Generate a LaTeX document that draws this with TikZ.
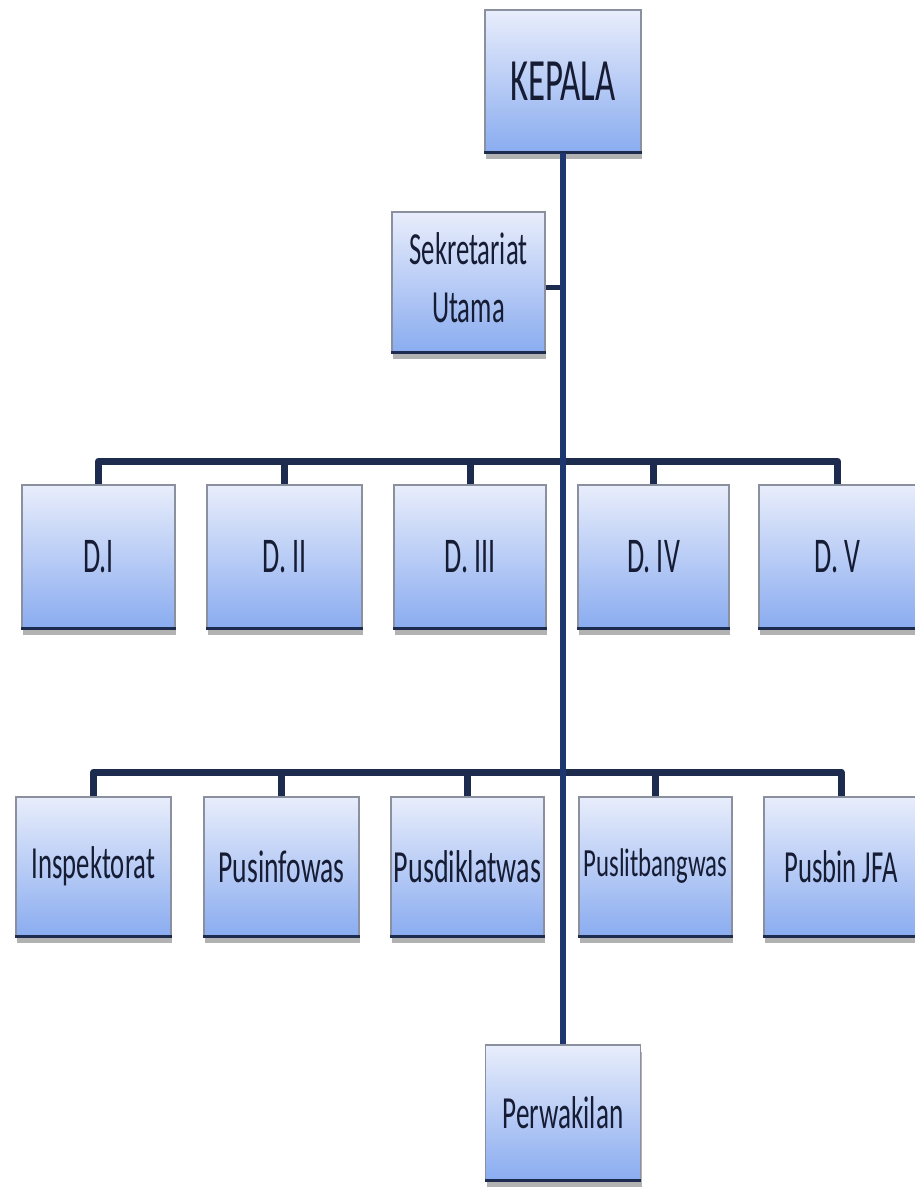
\documentclass[tikz,border=0pt]{standalone}
\usepackage{fontspec}
\usepackage{graphicx}
\setmainfont{Carlito}
\usetikzlibrary{shadows,calc}
\definecolor{navy}{HTML}{1D2B4F}
\definecolor{trunkc}{HTML}{1E3670}
\definecolor{boxtop}{HTML}{E8EDFB}
\definecolor{boxbot}{HTML}{8AACF0}
\definecolor{txt}{HTML}{161C33}
\definecolor{edge}{HTML}{8A909E}
\newcommand{\lbl}[3]{\scalebox{#2}[1]{\fontsize{#1}{#1}\selectfont #3}}
\tikzset{
  orgbox/.style={rectangle, inner sep=0pt, top color=boxtop, bottom color=boxbot,
    draw=edge, line width=1.2pt, text=txt,
    drop shadow={shadow xshift=1pt, shadow yshift=-7pt, opacity=.3, fill=black}},
  bus/.style={navy, line width=7pt, line join=round},
  trunk/.style={trunkc, line width=6.5pt},
  bottomedge/.style={navy, line width=3pt}
}
\begin{document}
\begin{tikzpicture}[x=1pt,y=-1pt]
\useasboundingbox[fill=white] (0,0) rectangle (915,1189);

% top
\node[orgbox, minimum width=156pt, minimum height=142pt] (kepala) at (563,81) {\lbl{60}{.58}{KEPALA}};
\node[orgbox, minimum width=153pt, minimum height=140pt] (sek) at (468.5,282)
  {\scalebox{.58}[1]{\fontsize{46}{58}\selectfont\begin{tabular}{@{}c@{}}Sekretariat\\Utama\end{tabular}}};

% D row
\node[orgbox, minimum width=153pt, minimum height=143pt] (d1) at (98.5,556.5) {\lbl{50}{.56}{D.I}};
\node[orgbox, minimum width=155pt, minimum height=143pt] (d2) at (284.5,556.5) {\lbl{50}{.56}{D. II}};
\node[orgbox, minimum width=152pt, minimum height=143pt] (d3) at (470,556.5) {\lbl{50}{.56}{D. III}};
\node[orgbox, minimum width=151pt, minimum height=143pt] (d4) at (653.5,556.5) {\lbl{50}{.56}{D. IV}};
\node[orgbox, minimum width=157pt, minimum height=143pt] (d5) at (837.5,556.5) {\lbl{50}{.56}{D. V}};

% lower row
\node[orgbox, minimum width=155pt, minimum height=139pt] (p1) at (93.5,866.5) {\lbl{46}{.58}{Inspektorat}};
\node[orgbox, minimum width=155pt, minimum height=139pt] (p2) at (281.5,866.5) {\lbl{46}{.6}{Pusinfowas}};
\node[orgbox, minimum width=153pt, minimum height=139pt] (p3) at (467.5,866.5) {\lbl{46}{.61}{Pusdiklatwas}};
\node[orgbox, minimum width=153pt, minimum height=139pt] (p4) at (655.5,866.5) {\lbl{40}{.62}{Puslitbangwas}};
\node[orgbox, minimum width=154pt, minimum height=139pt] (p5) at (841,866.5) {\lbl{46}{.58}{Pusbin JFA}};

% bottom
\node[orgbox, minimum width=155pt, minimum height=135pt] (perw) at (563,1112.5) {\lbl{46}{.59}{Perwakilan}};

\foreach \n in {kepala,sek,d1,d2,d3,d4,d5,p1,p2,p3,p4,p5,perw}
  \draw[bottomedge] (\n.south west) -- (\n.south east);

% connectors
\coordinate (busD) at (563,461);
\coordinate (busP) at (563,772);
\draw[bus] (d1.north) -- (d1.north |- busD) -- (d5.north |- busD) -- (d5.north);
\foreach \n in {d2,d3,d4} \draw[bus] (\n.north) -- (\n.north |- busD);
\draw[bus] (p1.north) -- (p1.north |- busP) -- (p5.north |- busP) -- (p5.north);
\foreach \n in {p2,p3,p4} \draw[bus] (\n.north) -- (\n.north |- busP);
\coordinate (sj) at ($(sek.east)+(0,5)$);
\draw[navy, line width=5pt] (sj) -- (sj -| kepala.south);
\draw[trunk] (kepala.south) -- (perw.north);
\end{tikzpicture}
\end{document}
